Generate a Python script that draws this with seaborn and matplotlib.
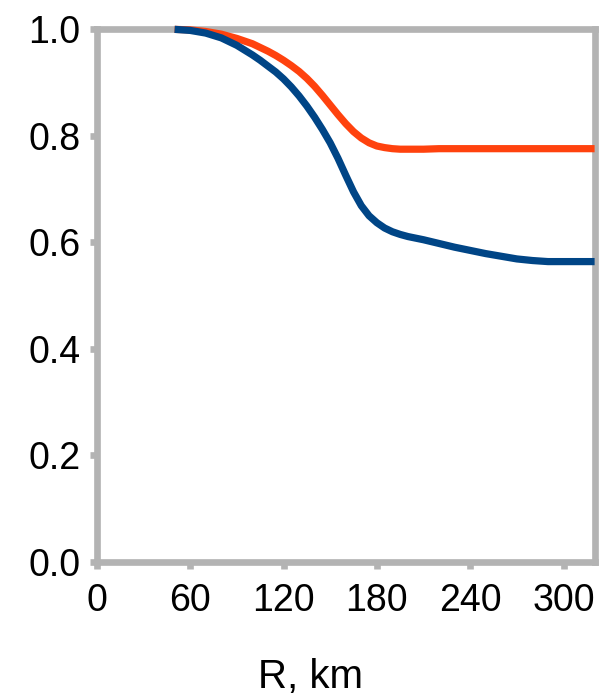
import matplotlib
matplotlib.use("Agg")
import matplotlib.pyplot as plt
import numpy as np
import pandas as pd
import seaborn as sns

# Radius (km) and the two normalised curves
radius_km = [50, 60, 70, 80, 90, 100, 105, 110, 115, 120, 125, 130, 135, 140,
             145, 150, 155, 160, 165, 170, 175, 180, 185, 190, 195, 200, 210,
             220, 230, 240, 250, 260, 270, 280, 290, 300, 310, 320]
lower_curve = [1.000, 0.998, 0.993, 0.984, 0.970, 0.952, 0.942, 0.931, 0.920,
               0.907, 0.892, 0.875, 0.856, 0.835, 0.812, 0.787, 0.758, 0.726,
               0.695, 0.669, 0.650, 0.637, 0.627, 0.620, 0.615, 0.611, 0.605,
               0.598, 0.591, 0.585, 0.579, 0.574, 0.569, 0.566, 0.564, 0.564,
               0.564, 0.564]
upper_curve = [1.000, 0.999, 0.996, 0.991, 0.983, 0.973, 0.966, 0.959, 0.951,
               0.942, 0.932, 0.921, 0.908, 0.893, 0.876, 0.858, 0.840, 0.823,
               0.808, 0.796, 0.787, 0.781, 0.778, 0.776, 0.775, 0.775, 0.775,
               0.776, 0.776, 0.776, 0.776, 0.776, 0.776, 0.776, 0.776, 0.776,
               0.776, 0.776]
series_names = ["lower", "upper"]
series_colors = ["#004586", "#ff420e"]

x_ticks = [0, 60, 120, 180, 240, 300]
y_ticks = [0.0, 0.2, 0.4, 0.6, 0.8, 1.0]
x_label = "R, km"

df = pd.DataFrame({
    "R": radius_km * 2,
    "value": lower_curve + upper_curve,
    "series": [series_names[0]] * len(radius_km) + [series_names[1]] * len(radius_km),
})

sns.set_theme(style="white")
plt.rcParams["font.family"] = ["Liberation Sans", "DejaVu Sans"]

fig = plt.figure(figsize=(6.13, 6.99), dpi=100)
ax = fig.add_axes([0.158, 0.196, 0.812, 0.762])

sns.lineplot(data=df, x="R", y="value", hue="series",
             hue_order=series_names[::-1], palette=series_colors[::-1],
             linewidth=5.2, legend=False, ax=ax, estimator=None, sort=True)
for line in ax.lines:
    line.set_clip_on(False)
    line.set_zorder(5)
    line.set_solid_capstyle("butt")
    line.set_solid_joinstyle("round")

grey = "#b3b3b3"
ax.set_xlim(0, 320)
ax.set_ylim(0, 1.0)
ax.set_xticks(x_ticks)
ax.set_xticklabels([str(t) for t in x_ticks])
ax.set_yticks(y_ticks)
ax.set_yticklabels([f"{t:.1f}" for t in y_ticks])
for spine in ax.spines.values():
    spine.set_visible(True)
    spine.set_color(grey)
    spine.set_linewidth(4.8)
    spine.set_zorder(3)
ax.tick_params(axis="both", which="major", direction="out", length=5,
               width=4.8, color=grey, labelcolor="black", labelsize=27)
ax.tick_params(axis="x", pad=10, bottom=True)
ax.tick_params(axis="y", pad=7, left=True)
ax.set_xlabel(x_label, fontsize=29, color="black")
ax.set_ylabel("")
ax.xaxis.set_label_coords(0.43, -0.18)
ax.grid(False)

fig.savefig("out.png", dpi=100)
